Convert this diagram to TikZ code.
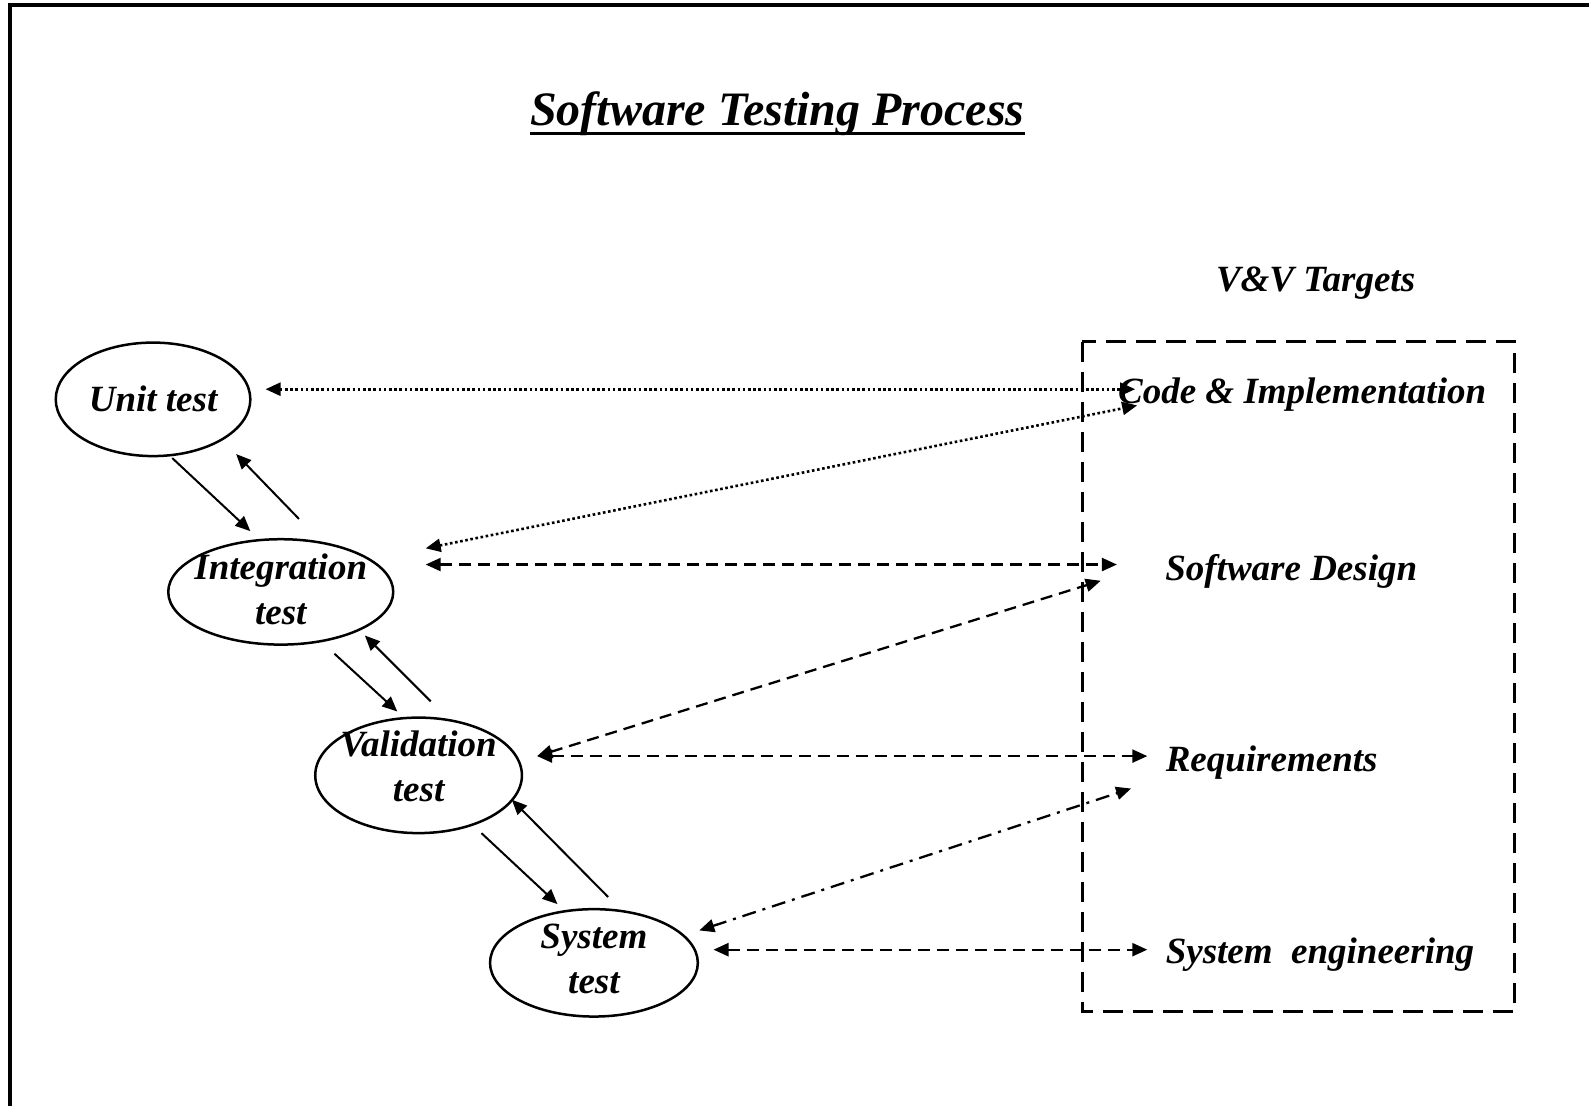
\documentclass[tikz,border=0pt]{standalone}
\usepackage{fontspec}
\setmainfont{Liberation Serif}
\usetikzlibrary{shapes.geometric,arrows.meta}
\begin{document}
\begin{tikzpicture}[x=1.0135pt,y=-1.0135pt,
  lbl/.style={font=\fontsize{37}{45}\selectfont\bfseries\itshape, align=center, inner sep=0pt},
  oval/.style={draw, line width=2.5pt, ellipse, inner sep=0pt},
  tipend/.style={-{Triangle[length=15pt,width=13pt]}, line width=2pt},
  bothend/.style={{Triangle[length=15pt,width=13pt]}-{Triangle[length=15pt,width=13pt]}, line width=2.3pt},
  dotline/.style={bothend, line width=2.6pt, dash pattern=on 2.6pt off 2.6pt},
  dashline/.style={bothend, dash pattern=on 12pt off 7pt},
  dashdotline/.style={bothend, dash pattern=on 14pt off 7pt on 3pt off 7pt},
  boxline/.style={line width=2.6pt, dash pattern=on 20pt off 10pt}]
\useasboundingbox (0,0) rectangle (1567.8,1090.3);
\fill[white] (0,0) rectangle (1567.8,1090.3);
% frame
\draw[line width=3.5pt] (10,1120) -- (10,5) -- (1600,5);
% title
\node[font=\fontsize{48}{56}\selectfont\bfseries\itshape, inner sep=0pt] (title) at (767,112) {Software Testing Process};
\draw[line width=3.5pt] ([yshift=-8pt]title.west |- title.base) coordinate (ul1) -- ([yshift=-8pt]title.east |- title.base) coordinate (ul2);
% V&V
\node[lbl] (vv) at (1298,279) {V\&V Targets};
\draw[boxline] (1068,337) rectangle (1494,998);
% targets
\node[lbl, anchor=west] (code) at (1103,389) {Code \& Implementation};
\node[lbl] (design) at (1274,564) {Software Design};
\node[lbl, anchor=west] (req) at (1150,752) {Requirements};
\node[lbl, anchor=west] (syseng) at (1150,942) {System\ \ engineering};
% ovals
\node[oval, minimum width=194.6pt, minimum height=113.5pt] (unit) at (151,394) {};
\node[lbl] at (unit.center) {Unit test};
\node[oval, minimum width=225pt, minimum height=105.4pt] (integ) at (277,584) {};
\node[lbl] at ([yshift=3pt]integ.center) {Integration\\test};
\node[oval, minimum width=206.7pt, minimum height=115.5pt] (valid) at (413,765) {};
\node[lbl] at ([yshift=9pt]valid.center) {Validation\\test};
\node[oval, minimum width=207.8pt, minimum height=107.4pt] (syst) at (586,950) {};
\node[lbl] at ([yshift=4pt]syst.center) {System\\test};
% vertical chain coordinates
\coordinate (a1) at (170,452); \coordinate (a2) at (247,524);
\coordinate (b1) at (295,512); \coordinate (b2) at (233,448);
\coordinate (c1) at (330,645); \coordinate (c2) at (392,702);
\coordinate (d1) at (425,692); \coordinate (d2) at (360,627);
\coordinate (e1) at (475,822); \coordinate (e2) at (550,892);
\coordinate (f1) at (600,885); \coordinate (f2) at (505,789);
\draw[tipend] (a1) -- (a2);
\draw[tipend] (b1) -- (b2);
\draw[tipend] (c1) -- (c2);
\draw[tipend] (d1) -- (d2);
\draw[tipend] (e1) -- (e2);
\draw[tipend] (f1) -- (f2);
% horizontal / diagonal connectors
\coordinate (u1) at (262,384); \coordinate (u2) at (1120,384);
\coordinate (g1) at (420,541); \coordinate (g2) at (1122,400);
\coordinate (h1) at (420,557); \coordinate (h2) at (1102,557);
\coordinate (i1) at (530,746); \coordinate (i2) at (1086,573);
\coordinate (j1) at (530,746); \coordinate (j2) at (1132,746);
\coordinate (k1) at (690,918); \coordinate (k2) at (1116,778);
\coordinate (l1) at (704,937); \coordinate (l2) at (1132,937);
\draw[dotline] (u1) -- (u2);
\draw[dotline] (g1) -- (g2);
\draw[dashline] (h1) -- (h2);
\draw[dashline] (i1) -- (i2);
\draw[dashline] (j1) -- (j2);
\draw[dashdotline] (k1) -- (k2);
\draw[dashline] (l1) -- (l2);
\end{tikzpicture}
\end{document}
